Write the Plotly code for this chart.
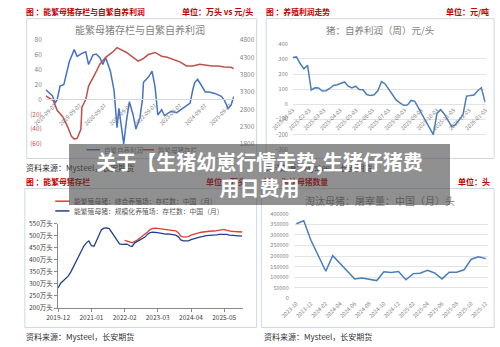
import plotly.graph_objects as go

W, H = 500, 347
def px(x): return x / W
def py(y): return 1 - y / H

FONT = "Noto Sans CJK SC"
RED_HDR = "#c00000"

# ---------------- Top-left: sow inventory vs self-breeding profit ----------------
tl_profit_dates = ["2018-05-01","2018-08-05","2018-09-15","2018-10-15","2018-11-25","2019-01-20","2019-04-10",
    "2019-06-20","2019-08-01","2019-10-10","2019-12-05","2020-01-15","2020-03-20","2020-05-05","2020-06-28",
    "2020-08-10","2020-09-20","2020-11-28","2021-01-20","2021-03-05","2021-04-01","2021-06-10","2021-07-20",
    "2021-09-01","2021-10-25","2021-12-05","2022-02-01","2022-03-12","2022-03-25","2022-06-05","2022-07-28",
    "2022-09-10","2022-10-20","2022-12-15","2023-01-25","2023-05-01","2023-07-22","2023-10-28","2024-02-03",
    "2024-03-15","2024-04-12","2024-05-22","2024-08-01","2024-09-12","2024-11-05","2025-01-28","2025-05-03",
    "2025-06-15","2025-08-08","2025-09-20","2025-11-01"]
tl_profit = [13,5,-5,0,18,20,51,67,58,62,64,47,60,61,56,47,56,38,12,-38,-12,-60,-29,-3,-21,-40,-25,1,23,30,38,
    17,-21,-14,-22,-16,-18,-12,-5,14,23,27,17,10,10,8,4,-1,-12,-8,4]

tl_sow_dates = ["2018-05-01","2018-08-20","2018-10-15","2019-01-05","2019-03-15","2019-05-10","2019-06-20",
    "2019-08-01","2019-09-25","2019-10-10","2019-12-05","2020-01-15","2020-04-20","2020-06-28","2020-09-20",
    "2020-12-25","2021-03-05","2021-05-12","2021-07-20","2021-10-25","2022-01-05","2022-03-12","2022-06-05",
    "2022-09-10","2022-12-15","2023-03-05","2023-06-12","2023-09-15","2023-12-10","2024-03-15","2024-06-20",
    "2024-09-12","2024-12-15","2025-03-22","2025-06-15","2025-09-20","2025-11-01"]
tl_sow = [3189,3050,2770,2580,2300,2020,1940,1960,2220,2860,3080,3470,3830,4100,4300,4440,4580,4520,4440,
    4300,4190,4250,4380,4440,4330,4300,4240,4160,4050,4050,4100,4080,4050,4050,4020,4010,3970]

tl_left_ticks = [-60,-40,-20,0,20,40,60,80]
tl_left_text = ['<span style="color:#c0504d">(60)</span>','<span style="color:#c0504d">(40)</span>',
                '<span style="color:#c0504d">(20)</span>','0','20','40','60','80']
tl_right_ticks = [1800,2300,2800,3300,3800,4300,4800]
tl_x_ticks = ["2018-09-07","2019-09-07","2020-09-07","2021-09-07","2022-09-07","2023-09-07","2024-09-07","2025-09-07"]

# ---------------- Top-right: weekly profit ----------------
tr_dates = ["2025-01-03","2025-01-10","2025-01-17","2025-01-24","2025-01-31","2025-02-07","2025-02-14",
    "2025-02-21","2025-02-28","2025-03-07","2025-03-14","2025-03-21","2025-03-28","2025-04-04","2025-04-11",
    "2025-04-18","2025-04-25","2025-05-02","2025-05-09","2025-05-16","2025-05-23","2025-05-30","2025-06-06",
    "2025-06-13","2025-06-20","2025-06-27","2025-07-04","2025-07-11","2025-07-18","2025-07-25","2025-08-01",
    "2025-08-08","2025-08-15","2025-08-22","2025-08-29","2025-09-05","2025-09-12","2025-09-19","2025-09-26",
    "2025-10-03","2025-10-10","2025-10-17","2025-10-24","2025-10-31","2025-11-07","2025-11-14","2025-11-21",
    "2025-11-28","2025-12-05","2025-12-12","2025-12-19","2025-12-26","2026-01-02"]
tr_profit = [310,314,270,235,258,95,110,108,88,90,105,125,130,138,148,120,108,120,98,97,65,58,63,90,150,135,
    100,58,28,10,-6,-5,26,20,-25,-65,-110,-160,-200,-60,-35,-65,-110,-148,-135,-105,-70,55,58,62,90,110,15]
tr_x_ticks = ["2025-01-03","2025-02-03","2025-03-03","2025-04-03","2025-05-03","2025-06-03","2025-07-03",
    "2025-08-03","2025-09-03","2025-10-03","2025-11-03","2025-12-03","2026-01-03"]

# ---------------- Bottom-left: sow inventory (monthly) ----------------
bl_scale_dates = ["2019-12","2020-01","2020-02","2020-03","2020-04","2020-05","2020-06","2020-07","2020-08",
    "2020-09","2020-10","2020-11","2020-12","2021-01","2021-02","2021-03","2021-04","2021-05","2021-06",
    "2021-07","2021-08","2021-09","2021-10","2021-11","2021-12","2022-01","2022-02","2022-03","2022-04",
    "2022-05","2022-06","2022-07","2022-08","2022-09","2022-10","2022-11","2022-12","2023-01","2023-02",
    "2023-03","2023-04","2023-05","2023-06","2023-07","2023-08","2023-09","2023-10","2023-11","2023-12",
    "2024-01","2024-02","2024-03","2024-04","2024-05","2024-06","2024-07","2024-08","2024-09","2024-10",
    "2024-11","2024-12","2025-01","2025-02","2025-03","2025-04","2025-05","2025-06","2025-07","2025-08",
    "2025-09","2025-10","2025-11","2025-12"]
bl_scale = [283,303,313,322,333,350,372,390,410,435,456,470,478,458,456,478,505,525,531,532,529,512,494,478,
    466,464,466,465,458,455,470,476,482,486,494,506,512,514,514,512,510,507,506,507,506,506,502,496,482,
    478,477,478,483,488,490,493,496,498,500,501,501,501,503,505,506,507,505,502,501,500,500,499,498]
bl_all_dates = bl_scale_dates[26:]
bl_all = [480,478,474,470,475,482,490,498,505,515,525,530,531,530,528,526,525,526,524,524,520,512,498,
    494,494,496,502,506,508,511,514,516,518,519,519,519,521,523,524,526,522,519,518,517,517,516,515]
bl_x_ticks = ["2019-12","2021-01","2022-02","2023-03","2024-04","2025-05"]

# ---------------- Bottom-right: culled sows (monthly) ----------------
br_dates = ["2023-10","2023-11","2023-12","2024-01","2024-02","2024-03","2024-04","2024-05","2024-06",
    "2024-07","2024-08","2024-09","2024-10","2024-11","2024-12","2025-01","2025-02","2025-03","2025-04",
    "2025-05","2025-06","2025-07","2025-08","2025-09","2025-10","2025-11","2025-12"]
br_culled = [353000,367000,275000,200000,128000,202000,165000,125000,92000,96000,90000,84000,126000,122000,
    127000,88000,117000,119000,133000,120000,92000,124000,124000,135000,185000,197000,188000]
br_x_ticks = ["2023-10","2023-12","2024-02","2024-04","2024-06","2024-08","2024-10","2024-12","2025-02",
    "2025-04","2025-06","2025-08","2025-10","2025-12"]

fig = go.Figure()
fig.add_trace(go.Scatter(x=tl_profit_dates, y=tl_profit, mode="lines", line=dict(color="#4472c4", width=1.5),
                         xaxis="x", yaxis="y"))
fig.add_trace(go.Scatter(x=tl_sow_dates, y=tl_sow, mode="lines", line=dict(color="#c0504d", width=1.5),
                         xaxis="x", yaxis="y2"))
fig.add_trace(go.Scatter(x=tr_dates, y=tr_profit, mode="lines", line=dict(color="#4a7ebb", width=1.5),
                         xaxis="x2", yaxis="y3"))
fig.add_trace(go.Scatter(x=bl_all_dates, y=bl_all, mode="lines", line=dict(color="#e03c31", width=1.3),
                         xaxis="x3", yaxis="y4"))
fig.add_trace(go.Scatter(x=bl_scale_dates, y=bl_scale, mode="lines", line=dict(color="#23408e", width=1.3),
                         xaxis="x3", yaxis="y4"))
fig.add_trace(go.Scatter(x=br_dates, y=br_culled, mode="lines", line=dict(color="#4a7ebb", width=1.5),
                         xaxis="x4", yaxis="y5"))

tickf = dict(family=FONT, size=5.5, color="#7f7f7f")
fig.update_layout(
    width=W, height=H, margin=dict(l=0, r=0, t=0, b=0), showlegend=False,
    paper_bgcolor="white", plot_bgcolor="rgba(0,0,0,0)", font=dict(family=FONT),
    xaxis=dict(domain=[px(25), px(223)], range=["2018-05-01", "2025-11-01"], anchor="free", position=py(96),
               tickvals=tl_x_ticks, tickformat="%Y-%m-%d", tickangle=-45, tickfont=tickf,
               showgrid=False, showline=True, linecolor="#d9d9d9", ticks="", zeroline=False),
    yaxis=dict(domain=[py(142), py(35)], range=[-60, 80], tickvals=tl_left_ticks, ticktext=tl_left_text,
               tickfont=dict(family=FONT, size=6.5, color="#7f7f7f"), showgrid=False, zeroline=False,
               anchor="x", ticklabelstandoff=3),
    yaxis2=dict(overlaying="y", side="right", anchor="x", range=[1800, 4800], tickvals=tl_right_ticks,
                tickfont=dict(family=FONT, size=6.5, color="#7f7f7f"), showgrid=False, zeroline=False,
                ticklabelstandoff=5),
    xaxis2=dict(domain=[px(285), px(488)], range=["2025-01-03", "2026-01-03"], anchor="free", position=py(102),
                tickvals=tr_x_ticks, tickformat="%Y-%m-%d", tickangle=-45, tickfont=tickf,
                showgrid=False, showline=False, ticks="", zeroline=False),
    yaxis3=dict(domain=[py(148), py(39)], range=[-300, 400], dtick=100, tickfont=tickf, anchor="x2",
                showgrid=True, gridcolor="#e3e3e3", gridwidth=1, zeroline=False, ticklabelstandoff=4),
    xaxis3=dict(domain=[px(38), px(233)], range=["2019-12-01", "2025-12-15"], anchor="y4",
                tickvals=bl_x_ticks, tickformat="%Y-%m", tickangle=0,
                tickfont=dict(family=FONT, size=6.5, color="#404040"), showgrid=False, showline=True,
                linecolor="#8a8a8a", ticks="outside", ticklen=3, tickcolor="#8a8a8a", zeroline=False),
    yaxis4=dict(domain=[py(311), py(224)], range=[200, 550], dtick=50, ticksuffix="万头", anchor="x3",
                tickfont=dict(family=FONT, size=6.5, color="#404040"), showgrid=False, showline=True,
                linecolor="#8a8a8a", ticks="outside", ticklen=3, tickcolor="#8a8a8a", zeroline=False),
    xaxis4=dict(domain=[px(286), px(491)], range=["2023-09-20", "2025-12-12"], anchor="y5",
                tickvals=br_x_ticks, tickformat="%Y-%m", tickangle=-45, tickfont=tickf,
                showgrid=False, showline=False, ticks="", zeroline=False),
    yaxis5=dict(domain=[py(301), py(214)], range=[0, 400000], dtick=50000, tickformat="d", anchor="x4",
                tickfont=tickf, showgrid=True, gridcolor="#e3e3e3", zeroline=False, ticklabelstandoff=4),
)

shapes = []
box_col = "#cfd6e4"
for (x0, y0, x1, y1) in [(5, 13, 247, 157), (257, 13, 497, 157), (3, 188, 247, 331), (252, 188, 497, 331)]:
    shapes.append(dict(type="rect", xref="paper", yref="paper", x0=px(x0), x1=px(x1), y0=py(y1), y1=py(y0),
                       line=dict(color=box_col, width=1), fillcolor="rgba(0,0,0,0)", layer="below"))
# legend swatches
for (x0, x1, y, c) in [(68, 82, 148, "#4472c4"), (127, 139, 148, "#c0504d"),
                       (35, 50, 201, "#e03c31"), (35, 50, 211, "#23408e")]:
    shapes.append(dict(type="line", xref="paper", yref="paper", x0=px(x0), x1=px(x1), y0=py(y), y1=py(y),
                       line=dict(color=c, width=1.5)))
fig.update_layout(shapes=shapes)

ann = []
def txt(x, y, s, size, color, anchor="left", bold=False):
    ann.append(dict(x=px(x), y=py(y), xref="paper", yref="paper", text=("<b>%s</b>" % s) if bold else s,
                    showarrow=False, xanchor=anchor, yanchor="middle",
                    font=dict(family=FONT, size=size, color=color)))

# headers
txt(2, 6, "图 ：能繁母猪存栏与自繁自养利润", 7.8, RED_HDR, bold=True)
txt(245, 6, "单位：万头 vs 元/头", 8, RED_HDR, "right", True)
txt(255, 6, "图 ：养殖利润走势", 7.8, RED_HDR, bold=True)
txt(494, 6, "单位：元/吨", 8, RED_HDR, "right", True)
txt(2, 181, "图 ：能繁母猪存栏", 7.8, RED_HDR, bold=True)
txt(192, 181, "单位：万头", 8, RED_HDR, bold=True)
txt(253, 181, "图 ：淘汰母猪数量", 7.8, RED_HDR, bold=True)
txt(495, 181, "单位：头", 8, RED_HDR, "right", True)
# chart titles
txt(124, 24, "能繁母猪存栏与自繁自养利润", 10, "#7f7f7f", "center")
txt(377, 25, "猪：自养利润（周）元/头", 9.5, "#7f7f7f", "center")
txt(377, 200, "淘汰母猪：屠宰量：中国（月）头", 10, "#7f7f7f", "center")
# legends
txt(84, 148, "自繁自养利润", 6.5, "#7f7f7f")
txt(141, 148, "能繁母猪存栏", 6.5, "#7f7f7f")
txt(53, 201, "能繁殖母猪：综合养殖场：存栏数：中国（月）", 6.8, "#595959")
txt(53, 211, "能繁殖母猪：规模化养殖场：存栏数：中国（月）", 6.8, "#595959")
# sources
txt(2, 166, "资料来源：Mysteel，长安期货", 8, "#333333")
txt(253, 166, "资料来源：Mysteel，长安期货", 8, "#333333")
txt(2, 340, "资料来源：Mysteel，长安期货", 8, "#333333")
txt(253, 340, "资料来源：Mysteel，长安期货", 8, "#333333")
# overlay title box (last so it sits on top)
ann.append(dict(x=px(249.5), y=py(173.5), xref="paper", yref="paper",
                text="<b>关于【生猪幼崽行情走势,生猪仔猪费<br>用日费用</b>", showarrow=False,
                xanchor="center", yanchor="middle", align="center", width=381, height=61,
                bgcolor="rgba(70,70,70,0.6)", borderpad=0, borderwidth=0,
                font=dict(family=FONT, size=20, color="white")))
fig.update_layout(annotations=ann)

fig.write_html("out.html")
